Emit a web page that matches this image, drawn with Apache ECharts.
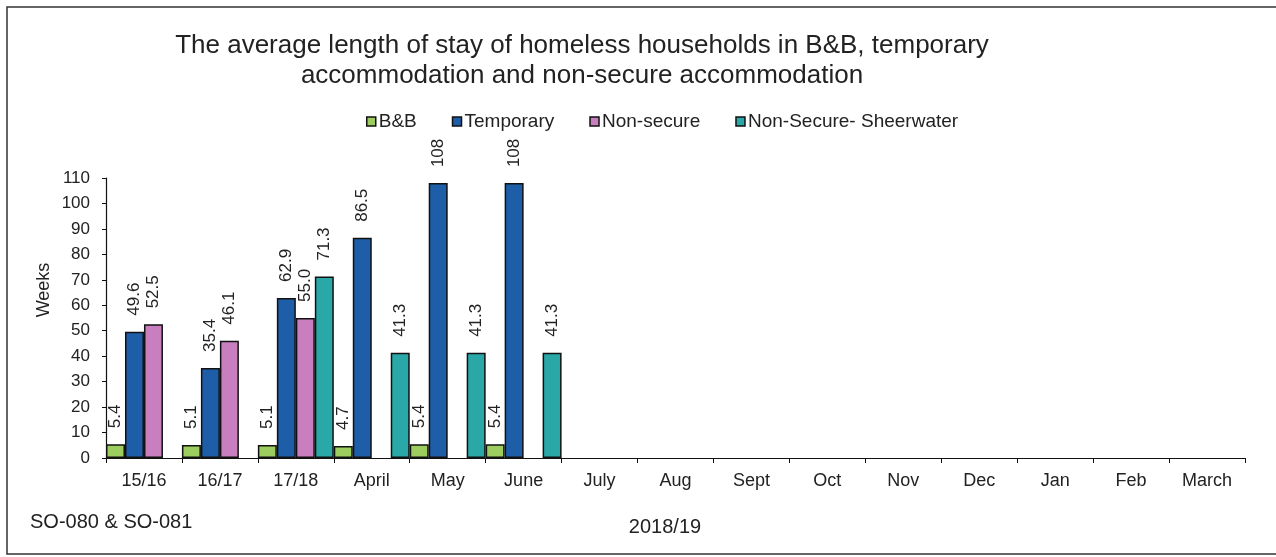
<!DOCTYPE html>
<html>
<head>
<meta charset="utf-8">
<script src="https://cdn.jsdelivr.net/npm/echarts@6/dist/echarts.min.js"></script>
<style>
html,body{margin:0;padding:0;background:#fff;}
#chart{width:1276px;height:557px;}
</style>
</head>
<body>
<div id="chart"></div>
<script>
const categories = ['15/16','16/17','17/18','April','May','June','July','Aug','Sept','Oct','Nov','Dec','Jan','Feb','March'];
const bnb = [5.4, 5.1, 5.1, 4.7, 5.4, 5.4, null, null, null, null, null, null, null, null, null];
const temporary = [49.6, 35.4, 62.9, 86.5, 108, 108, null, null, null, null, null, null, null, null, null];
const nonSecure = [52.5, 46.1, 55.0, null, null, null, null, null, null, null, null, null, null, null, null];
const sheerwater = [null, null, 71.3, 41.3, 41.3, 41.3, null, null, null, null, null, null, null, null, null];
const seriesNames = ['B&B', 'Temporary', 'Non-secure', 'Non-Secure- Sheerwater'];
const colors = ['#9ccd5e', '#1e5ea8', '#c97fbf', '#2aa8a8'];

const FONT = '"Liberation Sans", Arial, sans-serif';
const chart = echarts.init(document.getElementById('chart'));

function fmt(p) {
  const v = p.value;
  if (v == null) return '';
  return v >= 100 ? String(Math.round(v)) : v.toFixed(1);
}

const seriesData = [bnb, temporary, nonSecure, sheerwater];
const series = seriesData.map((d, i) => ({
  name: seriesNames[i],
  type: 'bar',
  data: d,
  barGap: '0%',
  barCategoryGap: '0%',
  itemStyle: { color: colors[i], borderColor: '#111', borderWidth: 1.5 },
  label: {
    show: true,
    position: 'top',
    rotate: 90,
    align: 'left',
    verticalAlign: 'middle',
    distance: 16,
    formatter: fmt,
    fontFamily: FONT,
    fontSize: 17,
    color: '#222'
  }
}));

chart.setOption({
  backgroundColor: '#fff',
  animation: false,
  title: {
    text: 'The average length of stay of homeless households in B&B, temporary\naccommodation and non-secure accommodation',
    left: 577,
    top: 26,
    textAlign: 'center',
    textStyle: { fontFamily: FONT, fontSize: 26, fontWeight: 'normal', color: '#222', lineHeight: 30 }
  },
  legend: {
    data: seriesNames,
    top: 107,
    left: 361,
    itemWidth: 9,
    itemHeight: 9,
    itemGap: 35,
    icon: 'rect',
    itemStyle: { borderColor: '#111', borderWidth: 1.5 },
    textStyle: { fontFamily: FONT, fontSize: 19, color: '#222', padding: [0, 0, 0, -2] }
  },
  grid: { left: 106, right: 31, top: 178, bottom: 99, containLabel: false },
  xAxis: {
    type: 'category',
    data: categories,
    axisLine: { lineStyle: { color: '#111', width: 1.2 } },
    axisTick: { show: true, alignWithLabel: false, length: 5, lineStyle: { color: '#111' } },
    axisLabel: { fontFamily: FONT, fontSize: 18, color: '#222', margin: 14 }
  },
  yAxis: {
    type: 'value',
    min: 0,
    max: 110,
    interval: 10,
    splitLine: { show: false },
    axisLine: { show: true, lineStyle: { color: '#111', width: 1.2 } },
    axisTick: { show: true, length: 4, lineStyle: { color: '#111' } },
    axisLabel: { fontFamily: FONT, fontSize: 17, color: '#222', margin: 16 }
  },
  graphic: [
    { type: 'rect', shape: { x: 7, y: 7, width: 1300, height: 547 }, style: { fill: 'none', stroke: '#333', lineWidth: 1.5 }, silent: true },
    { type: 'text', x: 44, y: 290, rotation: Math.PI / 2, style: { text: 'Weeks', fontFamily: FONT, fontSize: 18, fill: '#222', align: 'center', verticalAlign: 'middle' } },
    { type: 'text', x: 30, y: 522, style: { text: 'SO-080 & SO-081', fontFamily: FONT, fontSize: 20, fill: '#222', align: 'left', verticalAlign: 'middle' } },
    { type: 'text', x: 665, y: 527, style: { text: '2018/19', fontFamily: FONT, fontSize: 20, fill: '#222', align: 'center', verticalAlign: 'middle' } }
  ],
  series: series
});
</script>
</body>
</html>
